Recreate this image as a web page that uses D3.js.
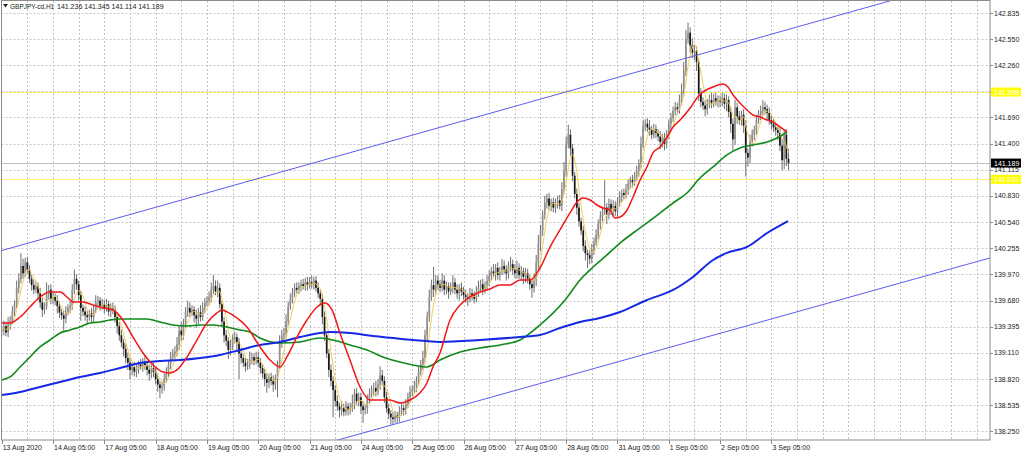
<!DOCTYPE html>
<html><head><meta charset="utf-8">
<script src="https://cdn.jsdelivr.net/npm/d3@7"></script>
<style>html,body{margin:0;padding:0;background:#fff;overflow:hidden}svg{display:block}</style>
</head><body><svg id="c" width="1024" height="454"></svg>
<script>
const symbol = "GBPJPY-cd,H1";
const headerOHLC = ["141.236", "141.345", "141.114", "141.189"];
const firstOpen = 139.34;
const closes = [
139.36,139.40,139.33,139.42,139.46,139.56,139.64,139.82,139.92,140.06,139.98,140.10,
140.02,139.92,139.85,139.80,139.84,139.76,139.66,139.58,139.62,139.74,139.80,139.70,
139.72,139.68,139.62,139.55,139.52,139.48,139.56,139.60,139.62,139.80,139.92,139.86,
139.74,139.60,139.56,139.52,139.50,139.54,139.50,139.58,139.66,139.68,139.62,139.64,
139.60,139.64,139.56,139.60,139.58,139.50,139.40,139.30,139.22,139.15,139.05,139.00,
138.92,138.95,138.90,138.93,138.98,138.96,139.00,138.97,138.92,138.88,138.94,138.90,
138.82,138.76,138.72,138.74,138.82,138.90,138.98,139.06,139.10,139.12,139.20,139.35,
139.30,139.42,139.56,139.60,139.55,139.58,139.52,139.48,139.55,139.50,139.60,139.66,
139.68,139.72,139.80,139.84,139.78,139.82,139.64,139.45,139.30,139.24,139.14,139.20,
139.26,139.28,139.22,139.10,139.05,139.00,138.96,138.98,139.04,139.06,139.02,139.06,
139.00,138.94,138.88,138.82,138.78,138.84,138.80,138.76,138.82,138.98,139.22,139.30,
139.32,139.45,139.62,139.70,139.78,139.82,139.80,139.84,139.86,139.84,139.88,139.85,
139.88,139.86,139.90,139.82,139.76,139.70,139.50,139.30,139.10,138.92,138.80,138.70,
138.58,138.52,138.48,138.50,138.46,138.52,138.48,138.50,138.55,138.66,138.58,138.62,
138.52,138.48,138.50,138.60,138.66,138.70,138.72,138.68,138.76,138.86,138.80,138.62,
138.50,138.44,138.40,138.38,138.42,138.40,138.46,138.50,138.48,138.54,138.62,138.68,
138.70,138.74,138.80,138.90,138.98,139.05,139.30,139.50,139.72,139.85,139.80,139.90,
139.86,139.82,139.90,139.80,139.84,139.78,139.82,139.88,139.80,139.76,139.82,139.78,
139.74,139.72,139.70,139.76,139.74,139.70,139.78,139.82,139.86,139.80,139.84,139.90,
139.95,140.00,139.98,140.04,139.96,140.00,140.06,140.02,139.98,140.05,140.08,140.02,
139.98,140.04,139.96,140.00,139.94,139.98,139.92,139.86,139.82,139.90,140.10,140.30,
140.45,140.62,140.75,140.80,140.72,140.76,140.70,140.74,140.78,140.72,140.90,141.10,
141.40,141.50,141.35,141.05,140.85,140.70,140.55,140.45,140.28,140.20,140.18,140.14,
140.24,140.32,140.40,140.52,140.60,140.66,140.70,140.62,140.74,140.68,140.72,140.66,
140.76,140.82,140.86,140.84,140.90,140.96,141.00,140.98,141.04,141.10,141.18,141.40,
141.60,141.62,141.58,141.55,141.50,141.56,141.52,141.48,141.42,141.46,141.40,141.50,
141.62,141.68,141.76,141.80,141.78,141.88,141.98,142.20,142.55,142.62,142.48,142.40,
142.42,142.30,141.95,141.86,141.82,141.78,141.84,141.88,141.85,141.90,141.86,141.88,
141.86,141.90,141.84,141.88,141.75,141.62,141.45,141.80,141.70,141.66,141.72,141.60,
141.30,141.25,141.42,141.50,141.55,141.66,141.72,141.76,141.80,141.78,141.74,141.66,
141.62,141.58,141.55,141.52,141.38,141.22,141.50,141.236,141.189];
// upper / lower shadows, in hundredths of a yen
const wickUp = [
4,6,5,8,5,6,4,8,6,14,8,5, 6,5,4,6,5,4,6,5,4,14,5,6, 5,4,6,5,4,5,6,4,5,6,10,5,
4,5,4,6,5,4,6,5,8,5,4,6, 5,6,4,5,6,5,4,5,6,4,5,6, 6,5,6,5,4,6,5,8,5,6,4,6,
5,6,4,5,6,5,4,6,5,6,8,6, 10,6,5,8,6,5,4,6,5,8,6,5, 5,6,8,12,6,8,5,4,5,6,4,5,
5,6,4,5,6,4,5,6,8,5,4,6, 6,5,4,5,6,4,5,6,5,4,8,6, 6,8,5,6,4,5,6,4,5,6,5,6,
6,8,4,5,6,4,5,6,4,5,6,5, 5,6,4,8,5,6,4,6,10,5,6,5, 5,6,4,5,6,5,6,8,6,10,6,5,
6,5,4,6,5,4,6,5,4,6,5,6, 5,6,5,6,5,8,6,6,8,6,20,6, 6,5,8,6,5,4,6,8,5,6,4,6,
5,6,4,6,5,4,6,8,5,6,5,6, 6,5,8,4,6,5,8,6,5,6,8,5, 6,8,5,6,4,6,5,4,6,8,8,10,
6,5,8,5,6,4,5,6,5,6,8,10, 8,11,6,5,4,6,5,4,5,6,4,5, 6,5,6,5,6,5,30,5,6,5,6,5,
5,6,4,5,6,5,4,6,5,6,5,8, 6,5,6,8,5,6,5,4,6,5,6,5, 5,6,5,6,5,6,8,10,10,11,6,8,
6,5,4,6,5,6,5,6,8,5,6,5, 5,6,5,6,4,5,6,8,5,6,4,6, 6,5,8,6,5,6,5,6,8,6,5,6,
5,6,4,5,6,8,6,6,11];
const wickDn = [
5,6,4,5,6,4,5,4,6,5,6,4, 4,5,6,5,4,8,6,8,5,4,5,6, 6,5,8,6,5,13,5,4,6,4,5,6,
6,14,5,6,8,4,6,5,4,6,5,4, 6,4,5,6,5,6,8,6,5,8,6,8, 10,6,5,6,5,4,6,5,6,8,5,6,
6,8,11,6,5,4,6,5,4,6,5,6, 6,5,4,6,5,4,8,10,6,5,4,6, 4,5,6,5,4,6,5,6,8,6,10,6,
6,5,8,28,6,5,6,4,5,6,5,4, 5,6,5,8,11,6,5,8,6,20,5,6, 6,5,6,4,5,6,4,5,6,4,5,6,
4,5,6,4,5,6,8,6,5,8,6,30, 6,5,8,6,5,4,6,5,4,6,5,6, 8,14,5,6,5,4,6,5,4,6,5,6,
5,6,8,6,4,6,5,4,6,5,4,6, 5,4,6,5,4,6,5,6,5,4,8,6, 6,5,4,6,5,8,4,6,5,6,8,5,
5,6,8,4,6,5,4,6,5,6,4,5, 6,5,4,8,5,6,4,5,8,6,5,6, 5,6,4,5,8,6,5,6,11,5,6,8,
8,6,5,6,5,6,5,6,5,4,6,5, 6,5,8,6,5,8,6,5,6,8,14,6, 5,6,4,5,6,5,4,10,5,6,8,5,
6,5,6,5,4,6,5,6,4,5,6,5, 5,6,5,6,5,4,6,5,8,6,7,5, 5,6,4,5,6,5,6,5,6,5,8,6,
8,10,8,6,5,8,6,5,6,5,4,6, 6,5,6,8,6,10,12,6,8,5,6,8, 26,10,6,5,6,5,4,6,5,6,8,5,
6,5,6,8,6,11,10,8,8];

const dateLabels = ["13 Aug 2020","14 Aug 05:00","17 Aug 05:00","18 Aug 05:00","19 Aug 05:00","20 Aug 05:00","21 Aug 05:00","24 Aug 05:00","25 Aug 05:00","26 Aug 05:00","27 Aug 05:00","28 Aug 05:00","31 Aug 05:00","1 Sep 05:00","2 Sep 05:00","3 Sep 05:00"];
const dateLabelBars = [0,24,48,72,96,120,144,168,192,216,240,264,288,312,336,360];
const priceTicks = [142.835,142.550,142.260,141.975,141.690,141.400,141.115,140.830,140.540,140.255,139.970,139.680,139.395,139.110,138.820,138.535,138.250];
const levelLines = [141.968, 141.010];
const bidPrice = 141.189;
const upperChannel = [[0,140.229],[430,143.064]];
const lowerChannel = [[150,138.104],[470,140.199]];

const redBars = [0,3.9,8.6,13.2,17.9,22.6,27.3,30.5,33.3,38,42.7,47.4,52.1,56.7,61.4,66.1,70.8,75.4,78.7,82,86.7,91.3,96,100.7,103,105.4,110,114.7,120.8,125.5,130.2,133.4,138.1,142.8,147.5,151.2,154.5,158.2,162.9,167.6,172.3,176.9,181.6,186.3,191,195.6,198.9,201.7,205,209.7,214.4,219,223.7,228.4,233.1,237.8,242.4,247.1,251.8,256.5,261.1,265.8,269.1,271.9,275.2,278.4,281.2,284.5,286.8,289.2,292.5,295.3,298.6,301.8,304.6,307.9,311.2,314,317.3,322,325.2,328,332.7,337.4,339.7,342.1,345.3,348.6,351.4,354.7,358,360.8,364,367.3];
const redVals = [139.435,139.435,139.50,139.61,139.72,139.775,139.775,139.72,139.665,139.665,139.633,139.60,139.578,139.468,139.281,139.106,138.974,138.898,138.887,138.92,139.062,139.248,139.435,139.545,139.578,139.556,139.49,139.391,139.172,139.029,138.952,139.062,139.281,139.468,139.61,139.654,139.578,139.325,139.029,138.733,138.59,138.59,138.59,138.557,138.59,138.667,138.777,138.952,139.106,139.468,139.633,139.72,139.775,139.808,139.852,139.852,139.907,139.907,140.038,140.27,140.455,140.642,140.762,140.806,140.784,140.729,140.696,140.674,140.587,140.598,140.674,140.817,141.003,141.146,141.30,141.365,141.475,141.585,141.661,141.793,141.903,141.969,142.023,142.056,142.023,141.936,141.848,141.771,141.716,141.694,141.661,141.64,141.585,141.53];
const greenBars = [0,3.9,8.6,13.2,17.9,22.6,27.3,32,36.6,41.3,46,50.7,55.3,61.4,68,74,80.1,86.7,92.8,98.8,105.4,111.5,116.1,120.8,130.2,139.5,148.9,155,162.9,170.9,178.3,186.3,192.4,198.9,205,214.4,223.7,233.1,242.4,251.8,263.5,270.5,276.6,283.1,289.2,295.3,301.8,307.9,314,320.5,326.6,332.7,339.2,345.3,351.4,358,362.6,367.3];
const greenVals = [138.81,138.843,138.952,139.062,139.172,139.248,139.325,139.358,139.391,139.435,139.446,139.468,139.479,139.479,139.479,139.446,139.413,139.402,139.413,139.413,139.391,139.358,139.336,139.27,139.216,139.227,139.27,139.248,139.194,139.139,139.062,139.007,138.974,138.952,139.029,139.117,139.161,139.194,139.248,139.413,139.687,139.907,140.049,140.181,140.312,140.422,140.532,140.641,140.751,140.861,141.025,141.146,141.278,141.354,141.387,141.42,141.464,141.53];
const blueBars = [0,8.6,17.9,27.3,36.6,46,55.3,64.7,74,83.4,92.8,102.1,111.5,120.8,130.2,139.5,148.9,153.6,162.9,173.7,183,192.4,205,223.7,242.4,251.8,261.1,270.5,279.8,289.2,301.8,314,323.3,332.7,339.2,348.6,358,367.8];
const blueVals = [138.645,138.678,138.733,138.788,138.843,138.887,138.941,138.996,139.018,139.029,139.051,139.084,139.139,139.194,139.227,139.281,139.325,139.336,139.325,139.292,139.27,139.248,139.227,139.248,139.281,139.303,139.38,139.446,139.49,139.556,139.687,139.797,139.94,140.126,140.203,140.269,140.422,140.553];
const fastPeriod = 5;

const svg = d3.select("#c");
const L = 1.5, R = 990, T = 1, B = 440;
const x = d3.scaleLinear().domain([0, 360]).range([1.7, 771.4]);
const y = d3.scaleLinear().domain([138.25, 142.835]).range([431, 13]);
const font = "'Liberation Sans', Arial, sans-serif";

svg.append("defs").append("clipPath").attr("id", "clip")
  .append("rect").attr("x", L).attr("y", T).attr("width", R - L).attr("height", B - T);

// grid
const grid = svg.append("g");
const gridBars = d3.range(12, 460, 12).filter(i => x(i) < R - 1);
grid.selectAll("line.v").data(gridBars).join("line")
  .attr("x1", d => Math.round(x(d)) + 0.5).attr("x2", d => Math.round(x(d)) + 0.5)
  .attr("y1", T).attr("y2", B)
  .attr("stroke", "#c6c6c6").attr("stroke-dasharray", "2,2");
grid.selectAll("line.h").data(priceTicks).join("line")
  .attr("x1", L).attr("x2", R)
  .attr("y1", d => Math.round(y(d)) + 0.5).attr("y2", d => Math.round(y(d)) + 0.5)
  .attr("stroke", "#c6c6c6").attr("stroke-dasharray", "2,2");

const plot = svg.append("g").attr("clip-path", "url(#clip)");

// bid line
plot.append("line").attr("x1", L).attr("x2", R)
  .attr("y1", Math.round(y(bidPrice)) + 0.5).attr("y2", Math.round(y(bidPrice)) + 0.5)
  .attr("stroke", "#c0c0c0");

// level lines
plot.selectAll("line.lvl").data(levelLines).join("line")
  .attr("x1", L).attr("x2", R)
  .attr("y1", d => Math.round(y(d)) + 0.5).attr("y2", d => Math.round(y(d)) + 0.5)
  .attr("stroke", "#f6f36e").attr("stroke-width", 1);

// candles
const bars = closes.map((c, i) => {
  const o = i === 0 ? firstOpen : closes[i - 1];
  return { i, o, c, h: Math.max(o, c) + wickUp[i] / 100, l: Math.min(o, c) - wickDn[i] / 100 };
});
const cg = plot.append("g");
cg.selectAll("line").data(bars).join("line")
  .attr("x1", d => x(d.i)).attr("x2", d => x(d.i))
  .attr("y1", d => y(d.h)).attr("y2", d => y(d.l))
  .attr("stroke", "#606060").attr("stroke-width", 0.9);
cg.selectAll("rect").data(bars).join("rect")
  .attr("x", d => x(d.i) - 0.85).attr("width", 1.7)
  .attr("y", d => y(Math.max(d.o, d.c)))
  .attr("height", d => Math.max(0.8, Math.abs(y(d.o) - y(d.c))))
  .attr("fill", d => d.c >= d.o ? "#909090" : "#151515");

// fast moving average of the closes
const fast = closes.map((c, i) => ({ i, v: d3.mean(closes.slice(Math.max(0, i - fastPeriod + 1), i + 1)) }));
plot.append("path").datum(fast)
  .attr("d", d3.line().x(d => x(d.i)).y(d => y(d.v)).curve(d3.curveMonotoneX))
  .attr("fill", "none").attr("stroke", "#f2cc55").attr("stroke-width", 1);

function maLine(bs, vs, color, w) {
  const pts = bs.map((b, k) => [b, vs[k]]);
  plot.append("path").datum(pts)
    .attr("d", d3.line().x(d => x(d[0])).y(d => y(d[1])).curve(d3.curveMonotoneX))
    .attr("fill", "none").attr("stroke", color).attr("stroke-width", w);
}
maLine(greenBars, greenVals, "#11891a", 1.6);
maLine(blueBars, blueVals, "#1428e6", 2);
maLine(redBars, redVals, "#f01818", 1.5);

// channel
[upperChannel, lowerChannel].forEach(ch => {
  plot.append("line")
    .attr("x1", x(ch[0][0])).attr("y1", y(ch[0][1]))
    .attr("x2", x(ch[1][0])).attr("y2", y(ch[1][1]))
    .attr("stroke", "#5c5cf0").attr("stroke-width", 1);
});

// frame
svg.append("rect").attr("x", L).attr("y", T - 0.5).attr("width", R - L).attr("height", B - T + 0.5)
  .attr("fill", "none").attr("stroke", "#8c8c8c").attr("stroke-width", 1);

// price axis
const pa = svg.append("g");
pa.selectAll("line").data(priceTicks).join("line")
  .attr("x1", R).attr("x2", R + 3)
  .attr("y1", d => Math.round(y(d)) + 0.5).attr("y2", d => Math.round(y(d)) + 0.5)
  .attr("stroke", "#8c8c8c");
pa.selectAll("text").data(priceTicks).join("text")
  .attr("x", 994).attr("y", d => y(d) + 2.6)
  .attr("font-family", font).attr("font-size", 7).attr("fill", "#222")
  .text(d => d.toFixed(3));

function priceTag(v, bg, fg) {
  const yy = y(v);
  pa.append("rect").attr("x", 991).attr("y", yy - 4.5).attr("width", 30).attr("height", 9).attr("fill", bg);
  pa.append("text").attr("x", 994).attr("y", yy + 2.6)
    .attr("font-family", font).attr("font-size", 7).attr("fill", fg).text(v.toFixed(3));
}
levelLines.forEach(v => priceTag(v, "#ffff00", "#ffffff"));
priceTag(bidPrice, "#000000", "#ffffff");

// time axis
const ta = svg.append("g");
ta.selectAll("line").data(dateLabelBars).join("line")
  .attr("x1", d => Math.round(x(d)) + 0.5).attr("x2", d => Math.round(x(d)) + 0.5)
  .attr("y1", B).attr("y2", B + 4).attr("stroke", "#8c8c8c");
ta.selectAll("text").data(dateLabels).join("text")
  .attr("x", (d, k) => x(dateLabelBars[k]) + 1).attr("y", 450)
  .attr("font-family", font).attr("font-size", 7).attr("fill", "#222")
  .text(d => d);

// header
svg.append("path").attr("d", "M3,4 L8,4 L5.5,7.5 Z").attr("fill", "#222");
svg.append("text").attr("x", 10).attr("y", 8.5).attr("font-family", font).attr("font-size", 6.5)
  .attr("fill", "#222").text(symbol);
svg.append("text").attr("x", 57).attr("y", 8.5).attr("font-family", font).attr("font-size", 7)
  .attr("fill", "#222").text(headerOHLC.join(" "));
</script>
</body></html>
